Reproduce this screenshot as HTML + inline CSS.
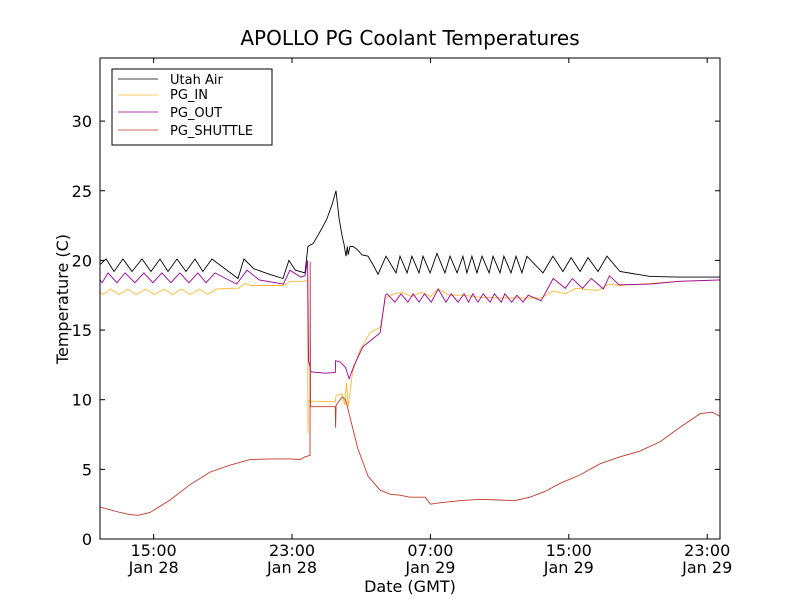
<!DOCTYPE html>
<html><head><meta charset="utf-8"><style>
html,body{margin:0;padding:0;background:#fff;}
svg{display:block;font-family:"DejaVu Sans","Liberation Sans",sans-serif;}
</style></head><body>
<svg id="chart" width="800" height="600" xmlns="http://www.w3.org/2000/svg">
<rect x="0" y="0" width="800" height="600" fill="#fff"/>
<text x="410" y="45" font-size="20" text-anchor="middle">APOLLO PG Coolant Temperatures</text>
<text x="410" y="592" font-size="16" text-anchor="middle">Date (GMT)</text>
<text x="0" y="0" font-size="16" text-anchor="middle" transform="translate(68,299) rotate(-90)">Temperature (C)</text>
<g id="plot"></g>
<rect x="100" y="58" width="620" height="481" fill="none" stroke="#000" stroke-width="1"/>
<g id="legend">
<rect x="112" y="69" width="160" height="76" fill="#fff" stroke="#000" stroke-width="1"/>
<line x1="118" y1="79" x2="158" y2="79" stroke="#000" stroke-width="0.8"/>
<text x="170" y="84" font-size="13">Utah Air</text>
<line x1="118" y1="95" x2="158" y2="95" stroke="#ffb833" stroke-width="0.8"/>
<text x="170" y="99" font-size="13">PG_IN</text>
<line x1="118" y1="112" x2="158" y2="112" stroke="#990099" stroke-width="0.8"/>
<text x="170" y="117" font-size="13">PG_OUT</text>
<line x1="118" y1="130" x2="158" y2="130" stroke="#c0392b" stroke-width="0.8"/>
<text x="170" y="135" font-size="13">PG_SHUTTLE</text>
</g>
</svg>
<script>
// hours since plot start (~11:55 Jan 28)
const yTicks = [0,5,10,15,20,25,30];
const xTickHours = [3.1,11.1,19.1,27.1,35.1];
const xTickLabels = [["15:00","Jan 28"],["23:00","Jan 28"],["07:00","Jan 29"],["15:00","Jan 29"],["23:00","Jan 29"]];

const airT = [0,0.35,0.81,1.33,1.85,2.43,2.95,3.47,3.93,4.45,4.97,5.49,5.95,6.47,7.98,8.32,8.9,9.8,10.58,10.92,11.3,11.85,12.02,12.31,12.6,12.83,13.12,13.41,13.64,13.82,13.99,14.1,14.22,14.3,14.34,14.45,14.62,14.86,15.14,15.49,15.78,16.07,16.53,17.11,17.34,17.75,18.03,18.44,18.67,19.08,19.48,19.94,20.23,20.64,20.98,21.21,21.5,21.79,22.08,22.49,22.72,23.12,23.35,23.76,24.05,24.39,24.68,25.61,26.18,26.76,27.23,27.75,28.21,28.79,29.31,30.06,31.79,33.5,35.84];
const airV = [19.7,20.1,19.2,20.1,19.2,20.1,19.2,20.1,19.2,20.1,19.2,20.1,19.2,20.1,18.7,20.1,19.4,19.0,18.7,20.0,19.3,19.1,21.0,21.2,21.8,22.3,23.0,24.0,25.0,23.0,21.8,21.2,20.3,21.0,20.4,21.0,21.0,20.8,20.4,20.3,19.7,19.0,20.3,19.1,20.3,19.1,20.3,19.1,20.3,19.1,20.5,19.1,20.3,19.1,20.3,19.1,20.3,19.1,20.3,19.1,20.3,19.1,20.3,19.1,20.3,19.1,20.3,19.1,20.3,19.2,20.2,19.2,20.2,19.2,20.3,19.2,18.85,18.8,18.8];

const outT = [0,0.12,0.46,0.98,1.45,2.02,2.54,3.06,3.58,4.1,4.62,5.14,5.66,6.13,6.65,7.9,8.5,9.2,10.6,10.98,11.6,11.85,12.0,12.05,12.2,13.0,13.6,13.62,13.9,14.2,14.4,14.7,15.2,15.8,16.2,16.5,16.6,17.05,17.4,17.8,18.1,18.45,18.75,19.15,19.55,20.0,20.3,20.7,21.05,21.3,21.55,21.85,22.15,22.55,22.8,23.2,23.4,23.8,24.1,24.45,24.75,25.5,26.2,26.9,27.3,27.9,28.4,29.1,29.45,30.0,31.8,33.5,35.84];
const outV = [18.6,18.4,19.1,18.4,19.1,18.4,19.1,18.4,19.1,18.4,19.1,18.4,19.1,18.4,19.1,18.3,19.3,18.6,18.3,19.3,18.8,18.9,20.0,12.8,12.0,11.9,11.95,12.8,12.7,12.3,11.5,12.5,13.8,14.4,14.8,17.5,17.6,17.0,17.6,17.0,17.6,17.0,17.6,17.0,17.95,17.0,17.6,17.0,17.6,17.0,17.6,17.0,17.6,17.0,17.6,17.0,17.6,17.0,17.5,17.0,17.5,17.1,18.7,18.0,18.7,18.0,18.7,17.95,18.9,18.25,18.3,18.5,18.6];

const inT = [0,0.2,0.6,1.1,1.6,2.1,2.65,3.15,3.7,4.2,4.7,5.2,5.75,6.2,6.75,7.5,8.0,8.4,8.7,10.6,11.0,11.85,12.0,12.02,12.03,12.1,13.6,13.65,14.0,14.15,14.25,14.35,14.6,15.0,15.6,16.2,16.5,17.0,17.5,18.0,18.6,19.1,19.55,20.2,21,22,23,24,25.5,26.2,26.9,27.5,28.2,28.8,29.4,30.0,33.5,35.84];
const inV = [17.7,17.55,17.95,17.55,17.95,17.55,17.95,17.55,17.95,17.55,17.95,17.55,17.95,17.55,17.95,18.0,18.0,18.35,18.2,18.2,18.5,18.5,18.6,7.6,9.9,9.9,9.85,10.3,10.4,9.6,11.2,9.5,12.0,13.5,14.8,15.2,17.3,17.6,17.7,17.4,17.7,17.4,17.95,17.5,17.5,17.35,17.3,17.3,17.3,17.8,17.6,18.0,17.9,17.85,18.3,18.2,18.5,18.6];

const shT = [0,1.16,1.73,2.2,2.89,4.05,5.2,6.36,7.51,8.67,9.83,10.98,11.56,11.85,12.14,12.15,12.17,13.6,13.62,13.65,14.0,14.2,14.4,14.9,15.5,16.2,16.8,17.3,17.9,18.8,19.1,19.65,20.8,21.95,23.1,23.95,24.85,25.7,26.6,27.75,28.9,30.06,31.2,32.4,33.5,34.7,35.4,35.84];
const shV = [2.3,1.9,1.75,1.7,1.9,2.8,3.9,4.8,5.3,5.7,5.75,5.75,5.7,5.9,6.0,19.9,9.5,9.5,8.0,9.6,10.2,10.0,9.0,6.5,4.5,3.5,3.2,3.15,3.0,3.0,2.5,2.6,2.75,2.85,2.8,2.75,3.0,3.4,4.0,4.6,5.4,5.9,6.3,7.0,8.0,9.0,9.1,8.8];

const X0=100,X1=720,Y0=539,Y1=58,TMAX=35.84,VMAX=34.53;
function xs(t){return X0+(t/TMAX)*(X1-X0);}
function ys(v){return Y0-(v/VMAX)*(Y0-Y1);}
const NS="http://www.w3.org/2000/svg";
const svg=document.getElementById('chart');
const plot=document.getElementById('plot');

yTicks.forEach(v=>{
  const y=ys(v);
  const l=document.createElementNS(NS,'line');
  
  
  l.setAttribute('x1',X0);l.setAttribute('x2',X0+5);l.setAttribute('y1',y);l.setAttribute('y2',y);l.setAttribute('stroke','#000');
  svg.appendChild(l);
  const r=document.createElementNS(NS,'line');
  
  
  r.setAttribute('x1',X1-5);r.setAttribute('x2',X1);r.setAttribute('y1',y);r.setAttribute('y2',y);r.setAttribute('stroke','#000');
  svg.appendChild(r);
  const t=document.createElementNS(NS,'text');
  
  
  t.setAttribute('x',X0-8);t.setAttribute('y',y+6);t.setAttribute('font-size','16');t.setAttribute('text-anchor','end');
  t.textContent=v;
  svg.appendChild(t);
});
xTickHours.forEach((h,i)=>{
  const x=xs(h);
  const l=document.createElementNS(NS,'line');
  
  
  l.setAttribute('x1',x);l.setAttribute('x2',x);l.setAttribute('y1',Y0);l.setAttribute('y2',Y0-5);l.setAttribute('stroke','#000');
  svg.appendChild(l);
  const u=document.createElementNS(NS,'line');
  
  
  u.setAttribute('x1',x);u.setAttribute('x2',x);u.setAttribute('y1',Y1);u.setAttribute('y2',Y1+5);u.setAttribute('stroke','#000');
  svg.appendChild(u);
  xTickLabels[i].forEach((s,j)=>{
    const t=document.createElementNS(NS,'text');
    
    
    t.setAttribute('x',x);t.setAttribute('y',556+j*17);t.setAttribute('font-size','16');t.setAttribute('text-anchor','middle');
    t.textContent=s;
    svg.appendChild(t);
  });
});
function series(T,V,color,name){
  const p=document.createElementNS(NS,'polyline');
  
  
  p.setAttribute('points',T.map((t,i)=>xs(t).toFixed(1)+','+ys(V[i]).toFixed(1)).join(' '));
  p.setAttribute('fill','none');p.setAttribute('stroke',color);p.setAttribute('stroke-width','0.9');
  plot.appendChild(p);
}
series(airT,airV,'#000','utah-air-line');
series(inT,inV,'#ffb833','pg-in-line');
series(outT,outV,'#990099','pg-out-line');
series(shT,shV,'#c0392b','pg-shuttle-line');
</script>
</body></html>
